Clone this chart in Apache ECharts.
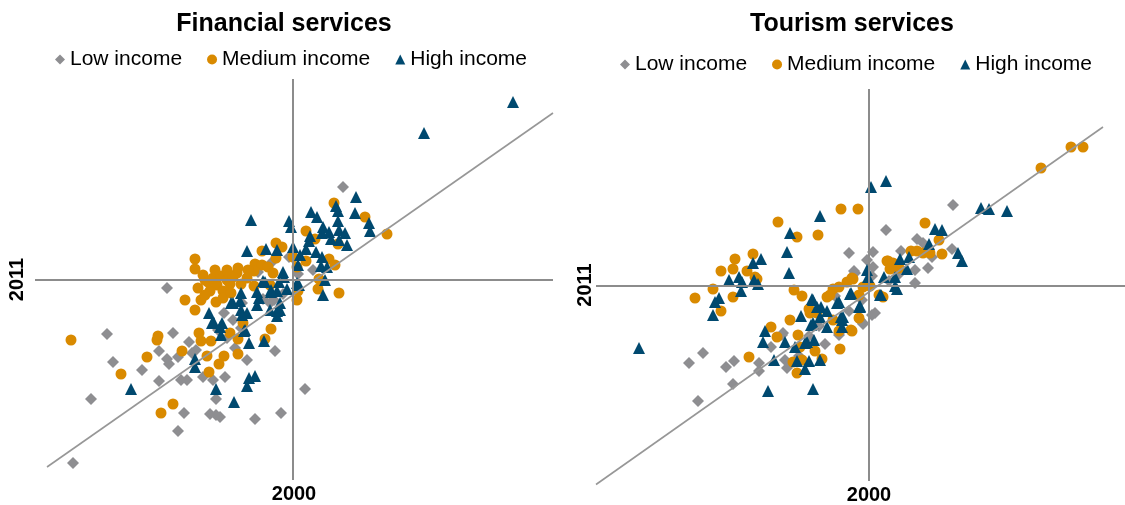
<!DOCTYPE html>
<html>
<head>
<meta charset="utf-8">
<script src="https://cdn.jsdelivr.net/npm/echarts@6/dist/echarts.min.js"></script>
<style>
  html, body { margin: 0; padding: 0; background: #fff; }
  #chart { width: 1125px; height: 505px; }
</style>
</head>
<body>
<div id="chart"></div>
<script>
var groupNames = ['Low income', 'Medium income', 'High income']
var panelTitles = ['Financial services', 'Tourism services']
var xName = '2000'
var yName = '2011'

// Financial services: [2000, 2011], centred on the crossing lines
var finLow = [
  [0.50, 0.93], [-0.04, 0.23], [-0.21, 0.18], [-0.30, -0.19], [-0.69, -0.33], [-0.23, -0.23],
  [-1.86, -0.54], [-1.20, -0.53], [-1.04, -0.62], [-1.34, -0.71], [-1.80, -0.82], [-1.51, -0.90],
  [-1.26, -0.79], [-1.24, -0.84], [-1.15, -0.77], [-1.01, -0.73], [-0.97, -0.70], [-1.34, -1.01],
  [-1.12, -1.00], [-1.06, -1.00], [-0.90, -0.97], [-0.80, -1.00], [-0.68, -0.97], [-2.02, -1.19],
  [-0.77, -1.19], [-1.09, -1.33], [-0.83, -1.34], [-0.77, -1.35], [-0.73, -1.37], [-0.38, -1.39],
  [-0.12, -1.33], [0.12, -1.09], [-0.18, -0.71], [-0.46, -0.80], [-0.58, -0.68], [-1.15, -1.51],
  [-2.20, -1.83], [-1.26, -0.08], [-0.51, -0.23], [-0.19, -0.20], [-0.60, -0.40], [-0.52, -0.48],
  [-0.10, -0.14], [0.05, 0.06], [-0.35, 0.08], [0.20, 0.10], [-0.75, -0.50], [-0.66, -0.58]
]
var finMedium = [
  [0.41, 0.77], [0.72, 0.63], [0.94, 0.46], [0.13, 0.49], [0.22, 0.41], [0.45, 0.36],
  [-0.17, 0.37], [-0.11, 0.33], [-0.31, 0.29], [-0.17, 0.22], [-0.98, 0.21], [-0.98, 0.11],
  [-0.38, 0.16], [-0.31, 0.15], [-0.25, 0.13], [-0.39, 0.09], [-0.56, 0.07], [-0.20, 0.07],
  [0.00, 0.23], [0.13, 0.19], [0.04, 0.13], [0.36, 0.21], [0.42, 0.15], [0.26, 0.01],
  [0.25, -0.09], [0.46, -0.13], [-0.88, 0.00], [-0.63, -0.04], [-0.76, -0.05], [-0.83, -0.11],
  [-0.70, -0.11], [-1.08, -0.20], [-0.77, -0.22], [-0.92, -0.20], [-0.98, -0.30], [-0.39, -0.06],
  [-0.23, -0.05], [0.04, -0.20], [0.05, -0.11],
  [-2.22, -0.60], [-1.35, -0.56], [-1.36, -0.60], [-1.46, -0.77], [-1.72, -0.94], [-1.20, -1.24],
  [-1.32, -1.33], [-1.11, -0.71], [-0.94, -0.53], [-0.92, -0.61], [-0.82, -0.61], [-0.86, -0.76],
  [-0.69, -0.76], [-0.74, -0.84], [-0.84, -0.92], [-0.55, -0.74], [-0.55, -0.59], [-0.63, -0.53],
  [-0.50, -0.43], [-0.22, -0.49], [-0.28, -0.59],
  [-0.90, 0.05], [-0.85, -0.02], [-0.80, 0.02], [-0.72, 0.04], [-0.66, 0.00], [-0.60, 0.03],
  [-0.95, -0.08], [-0.88, -0.15], [-0.70, -0.18], [-0.62, -0.13], [-0.52, -0.04], [-0.46, 0.02],
  [-0.45, 0.10], [-0.55, 0.12], [-0.66, 0.10], [-0.78, 0.10]
]
var finHigh = [
  [2.20, 1.78], [1.31, 1.47],
  [0.63, 0.83], [-0.42, 0.60], [0.18, 0.68], [0.24, 0.63], [0.43, 0.74], [0.45, 0.69],
  [0.62, 0.67], [-0.04, 0.59], [-0.02, 0.53], [0.45, 0.59], [0.76, 0.57], [0.77, 0.49],
  [0.30, 0.53], [0.29, 0.47], [0.36, 0.48], [0.46, 0.50], [0.52, 0.47], [0.38, 0.41],
  [0.46, 0.40], [0.54, 0.35], [0.17, 0.44], [0.16, 0.39], [0.13, 0.31], [0.00, 0.33],
  [-0.27, 0.31], [-0.16, 0.30], [-0.46, 0.29], [0.07, 0.25], [0.05, 0.15], [0.23, 0.28],
  [0.29, 0.23], [0.28, 0.14], [0.34, 0.13], [0.32, 0.00], [0.30, -0.15], [-0.10, 0.08],
  [-0.09, 0.03], [-0.28, -0.02], [-0.14, -0.02], [0.04, -0.03], [0.06, -0.05], [-0.06, -0.09],
  [-0.16, -0.11], [-0.22, -0.12], [-0.36, -0.12], [-0.52, -0.13], [-0.34, -0.18], [-0.53, -0.21],
  [-0.60, -0.23], [-0.36, -0.25], [-0.52, -0.30], [-0.46, -0.33], [-0.84, -0.33], [-0.13, -0.23],
  [-0.16, -0.31],
  [-1.62, -1.09], [-0.98, -0.79], [-0.98, -0.87], [-0.81, -0.43], [-0.73, -0.47], [-0.72, -0.55],
  [-0.49, -0.51], [-0.44, -0.63], [-0.29, -0.61], [-0.44, -0.98], [-0.38, -0.96], [-0.46, -1.06],
  [-0.77, -1.09], [-0.59, -1.22], [-0.16, -0.36], [-0.13, -0.30],
  [-0.30, -0.01], [-0.22, -0.10], [-0.62, -0.23], [-0.51, -0.35], [-0.23, -0.30], [-0.79, -0.43],
  [-0.71, -0.43], [-0.48, -0.50]
]
var finDiagonal = [[-2.46, -1.87], [2.60, 1.67]]

// Tourism services
var tourLow = [
  [0.17, 0.56], [-0.20, 0.33], [0.04, 0.34], [-0.02, 0.26], [-0.15, 0.15], [0.03, 0.10],
  [0.03, -0.29], [-0.06, -0.38], [-0.34, -0.10], [-0.86, -0.47],
  [0.84, 0.81], [0.48, 0.47], [0.54, 0.43], [0.32, 0.35], [0.46, 0.16], [0.59, 0.18],
  [0.83, 0.37], [0.63, 0.29], [0.46, 0.03], [-0.14, 0.13], [0.04, 0.19],
  [-1.80, -0.77], [-1.66, -0.67], [-1.43, -0.81], [-1.35, -0.75], [-1.10, -0.77], [-1.10, -0.85],
  [-1.36, -0.98], [-1.71, -1.15], [-0.87, -0.49], [-0.98, -0.61], [-0.84, -0.74], [-0.82, -0.82],
  [-0.44, -0.58], [-0.30, -0.47], [-0.06, -0.37],
  [-0.07, -0.14], [0.06, -0.27], [-0.09, -0.34], [-0.30, -0.49],
  [-0.60, -0.50], [-0.50, -0.40], [-0.20, -0.25], [0.20, 0.05], [0.30, 0.12], [-0.70, -0.70]
]
var tourMedium = [
  [-0.28, 0.77], [-0.11, 0.77], [-0.91, 0.64], [-0.72, 0.49], [-0.51, 0.51], [-1.16, 0.32],
  [-1.34, 0.27], [-1.48, 0.15], [-1.36, 0.17], [-1.22, 0.15], [-1.12, 0.07], [-1.56, -0.03],
  [-1.74, -0.12], [-1.36, -0.11], [-1.48, -0.25], [-0.75, -0.04], [-0.67, -0.10], [-0.42, -0.11],
  [-0.36, -0.03], [-0.30, -0.01], [-0.22, 0.04], [-0.17, 0.08], [-0.06, -0.01], [0.01, 0.00],
  [0.18, 0.25], [0.23, 0.22], [0.14, -0.11], [-0.60, -0.23], [-0.52, -0.27], [-0.79, -0.34],
  [-0.98, -0.41], [-0.92, -0.51], [-0.71, -0.49], [-0.17, -0.45], [-0.10, -0.32], [-0.30, -0.45],
  [2.02, 1.39], [2.14, 1.39], [1.72, 1.18], [0.56, 0.63], [0.70, 0.46], [0.73, 0.32],
  [0.42, 0.35], [0.48, 0.35], [0.54, 0.33], [0.61, 0.33], [0.19, 0.25], [0.24, 0.23],
  [0.21, 0.17], [0.30, 0.18], [-0.16, 0.07],
  [-1.20, -0.71], [-0.69, -0.61], [-0.67, -0.74], [-0.76, -0.76], [-0.72, -0.87], [-0.54, -0.65],
  [-0.47, -0.73], [-0.29, -0.63],
  [-0.59, -0.27], [-0.10, -0.09], [-0.39, -0.09], [-0.36, -0.34], [-0.18, -0.44], [0.10, -0.09],
  [-1.14, 0.09]
]
var tourHigh = [
  [0.02, 0.99], [0.17, 1.05], [-0.49, 0.70], [-0.79, 0.53], [-0.82, 0.34], [-0.80, 0.13],
  [-1.08, 0.27], [-1.16, 0.23], [-1.30, 0.09], [-1.40, 0.06], [-1.27, 0.04], [-1.28, -0.05],
  [-1.15, 0.06], [-1.11, 0.02], [-1.50, -0.12], [-1.54, -0.16], [-1.56, -0.29], [-0.02, 0.16],
  [-0.01, 0.09], [0.15, 0.09], [0.28, -0.03], [0.11, -0.09], [-0.19, -0.08], [-0.09, -0.20],
  [-0.32, -0.17], [-0.56, -0.14], [-0.52, -0.21], [-0.42, -0.25], [-0.68, -0.30], [-0.49, -0.31],
  [-0.56, -0.37], [-0.42, -0.41], [-0.27, -0.34], [-0.27, -0.41], [-1.04, -0.45],
  [1.12, 0.78], [1.20, 0.77], [1.38, 0.75], [0.66, 0.57], [0.73, 0.56], [0.60, 0.42],
  [0.89, 0.33], [0.93, 0.25], [0.31, 0.27], [0.40, 0.29], [0.38, 0.17], [0.26, 0.09],
  [0.26, 0.00],
  [-2.30, -0.62], [-1.06, -0.56], [-0.95, -0.74], [-1.01, -1.05], [-0.56, -1.03], [-0.84, -0.56],
  [-0.74, -0.61], [-0.72, -0.75], [-0.64, -0.83], [-0.60, -0.75], [-0.49, -0.74], [-0.62, -0.56],
  [-0.55, -0.54], [-0.58, -0.39], [-0.26, -0.31], [-0.09, -0.21],
  [-0.57, -0.13], [-0.48, -0.21], [-0.30, -0.16], [-0.18, -0.07], [-0.10, -0.21], [-0.28, -0.31],
  [-0.64, -0.57], [0.12, -0.09]
]
var tourDiagonal = [[-2.73, -1.985], [2.34, 1.59]]

var font = '"Liberation Sans", Arial, sans-serif'
var colors = ['#8e8e91', '#d98a00', '#00496f']
var symbols = ['diamond', 'circle', 'triangle']
var symbolSizes = [12, 11, 12]
var lineGray = '#8c8c8c'

var chart = echarts.init(document.getElementById('chart'))

function panelSeries(index, groups, diagonal) {
  var list = [{
    // crossing lines at the origin of each panel
    type: 'line',
    xAxisIndex: index,
    yAxisIndex: index,
    data: [],
    silent: true,
    markLine: {
      silent: true,
      symbol: ['none', 'none'],
      label: { show: false },
      lineStyle: { color: lineGray, width: 2, type: 'solid' },
      data: [{ xAxis: 0 }, { yAxis: 0 }]
    }
  }]
  groups.forEach(function (data, i) {
    list.push({
      name: groupNames[i],
      type: 'scatter',
      xAxisIndex: index,
      yAxisIndex: index,
      symbol: symbols[i],
      symbolSize: symbolSizes[i],
      itemStyle: { color: colors[i], opacity: 1 },
      data: data
    })
  })
  list.push({
    type: 'line',
    xAxisIndex: index,
    yAxisIndex: index,
    silent: true,
    clip: false,
    symbol: 'none',
    lineStyle: { color: '#979797', width: 1.6 },
    data: diagonal
  })
  return list
}

function axisBase(index, min, max, name, gap) {
  return {
    type: 'value',
    gridIndex: index,
    min: min,
    max: max,
    name: name,
    nameLocation: 'middle',
    nameGap: gap,
    nameTextStyle: { fontSize: 20, fontWeight: 'bold', color: '#000', fontFamily: font },
    axisLine: { show: false, onZero: false },
    axisTick: { show: false },
    axisLabel: { show: false },
    splitLine: { show: false }
  }
}

function legendAt(left, top) {
  return {
    left: left,
    top: top,
    padding: 0,
    itemWidth: 10,
    itemHeight: 10,
    itemGap: 25,
    textStyle: { fontSize: 21, color: '#000', fontFamily: font },
    data: groupNames.map(function (n, i) { return { name: n, icon: symbols[i] } })
  }
}

chart.setOption({
  animation: false,
  backgroundColor: '#fff',
  title: [{
    text: panelTitles[0],
    left: 284,
    top: 12,
    padding: 0,
    textAlign: 'center',
    textStyle: { fontSize: 25, fontWeight: 'bold', color: '#000', fontFamily: font }
  }, {
    text: panelTitles[1],
    left: 852,
    top: 12,
    padding: 0,
    textAlign: 'center',
    textStyle: { fontSize: 25, fontWeight: 'bold', color: '#000', fontFamily: font }
  }],
  legend: [legendAt(55, 49), legendAt(620, 54)],
  grid: [
    { left: 35, top: 79, width: 518, height: 401, outerBoundsMode: 'none' },
    { left: 596, top: 89, width: 546, height: 392, outerBoundsMode: 'none' }
  ],
  xAxis: [
    axisBase(0, -2.58, 2.60, xName, 4),
    axisBase(1, -2.73, 2.73, xName, 4)
  ],
  yAxis: [
    axisBase(0, -2.00, 2.01, yName, 8),
    axisBase(1, -1.95, 1.97, yName, 1)
  ],
  series: panelSeries(0, [finLow, finMedium, finHigh], finDiagonal)
    .concat(panelSeries(1, [tourLow, tourMedium, tourHigh], tourDiagonal))
})
</script>
</body>
</html>
